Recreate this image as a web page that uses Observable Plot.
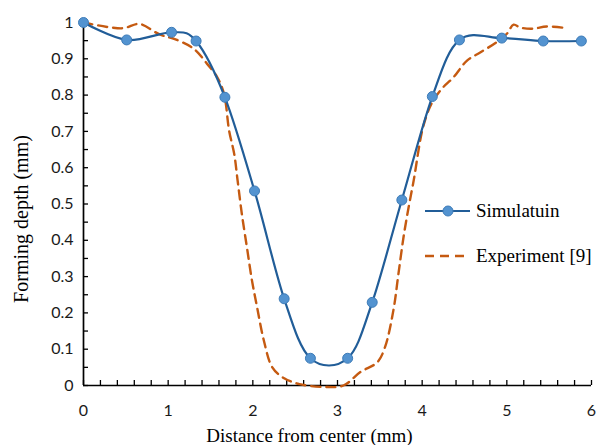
<!DOCTYPE html>
<html><head><meta charset="utf-8">
<script src="https://cdn.jsdelivr.net/npm/d3@7"></script>
<script src="https://cdn.jsdelivr.net/npm/@observablehq/plot@0.6"></script>
<style>html,body{margin:0;padding:0;background:#fff;}</style>
</head><body><div id="chart"></div>
<script>
// Simulation series (markers)
const simX = [0, 0.51, 1.04, 1.33, 1.67, 2.02, 2.37, 2.68, 3.12, 3.41, 3.76, 4.12, 4.44, 4.94, 5.43, 5.88];
const simY = [1.0, 0.952, 0.973, 0.949, 0.794, 0.536, 0.239, 0.075, 0.075, 0.229, 0.511, 0.796, 0.952, 0.957, 0.949, 0.949];
// Experiment [9] series (dashed)
const expX = [0, 0.46, 0.66, 0.9, 1.07, 1.3, 1.46, 1.58, 1.66, 1.72, 1.78, 1.82, 1.87, 1.93, 1.99, 2.05, 2.13, 2.23, 2.37, 2.55, 2.84, 3.07, 3.27, 3.47, 3.56, 3.66, 3.72, 3.78, 3.84, 3.9, 4.01, 4.11, 4.23, 4.37, 4.53, 4.69, 4.88, 5.0, 5.08, 5.16, 5.31, 5.47, 5.72];
const expY = [1.0, 0.984, 0.996, 0.967, 0.955, 0.928, 0.886, 0.849, 0.803, 0.702, 0.638, 0.565, 0.473, 0.381, 0.289, 0.216, 0.124, 0.05, 0.02, 0.004, -0.004, 0.0, 0.037, 0.064, 0.105, 0.207, 0.308, 0.409, 0.491, 0.565, 0.711, 0.776, 0.817, 0.849, 0.895, 0.918, 0.946, 0.969, 0.994, 0.986, 0.983, 0.989, 0.984];
// Tick labels
const xTickLabels = [0, 1, 2, 3, 4, 5, 6];
const yTickLabels = [0, 0.1, 0.2, 0.3, 0.4, 0.5, 0.6, 0.7, 0.8, 0.9, 1];
const seriesNames = ["Simulatuin", "Experiment [9]"];
const xTitle = "Distance from center (mm)";
const yTitle = "Forming depth (mm)";

const sim = simX.map((x, i) => ({x, y: simY[i]}));
const exp = expX.map((x, i) => ({x, y: expY[i]}));
const xMinor = d3.range(0, 31).map(i => i * 0.2);
const yMinor = d3.range(0, 21).map(i => i * 0.05);

const W = 598, H = 445, mL = 83, mR = 7, mT = 22, mB = 60;
const simColor = "#215D98", dotFill = "#5393D0", dotStroke = "#3E7CB8", expColor = "#C55A11";

const svg = Plot.plot({
  width: W, height: H,
  marginLeft: mL, marginRight: mR, marginTop: mT, marginBottom: mB,
  x: {domain: [0, 6]},
  y: {domain: [0, 1]},
  style: {fontFamily: "Lato", background: "white", color: "#1a1a1a"},
  marks: [
    Plot.tickX(xMinor, {x: d => d, insetTop: H - mT - mB - 5, stroke: "#000", strokeWidth: 1.3}),
    Plot.tickY(yMinor, {y: d => d, insetRight: W - mL - mR - 5, stroke: "#000", strokeWidth: 1.3}),
    Plot.ruleY([0], {stroke: "#000", strokeWidth: 1.7}),
    Plot.ruleX([0], {stroke: "#000", strokeWidth: 1.7}),
    Plot.axisX(xTickLabels, {tickSize: 0, tickPadding: 19, fontSize: 16, label: null, tickFormat: d => String(d)}),
    Plot.axisY(yTickLabels, {tickSize: 0, tickPadding: 10, fontSize: 16, label: null, tickFormat: d => String(d)}),
    Plot.line(exp, {x: "x", y: "y", stroke: expColor, strokeWidth: 2.4, strokeDasharray: "9,6", curve: "catmull-rom"}),
    Plot.line(sim, {x: "x", y: "y", stroke: simColor, strokeWidth: 2.2, curve: "cardinal"}),
    Plot.dot(sim, {x: "x", y: "y", r: 5, fill: dotFill, stroke: dotStroke, strokeWidth: 1}),
    Plot.text([xTitle], {frameAnchor: "bottom", textAnchor: "middle", dy: 50, dx: -28, fontSize: 19, fontFamily: "Liberation Serif", fill: "#000", lineAnchor: "middle"}),
    Plot.text([yTitle], {frameAnchor: "left", textAnchor: "middle", rotate: -90, dx: -62, dy: 15, fontSize: 20, fontFamily: "Liberation Serif", fill: "#000", lineAnchor: "middle"})
  ]
});
document.getElementById("chart").appendChild(svg);

// Legend (inside plot area)
const lg = d3.select(svg).append("g")
  .style("font-family", "'Liberation Serif', serif")
  .style("font-size", "19px")
  .attr("text-anchor", "start");
const rows = [
  {name: seriesNames[0], y: 211, kind: "sim"},
  {name: seriesNames[1], y: 256, kind: "exp"}
];
rows.forEach(r => {
  const line = lg.append("line").attr("x1", 425).attr("x2", 470).attr("y1", r.y).attr("y2", r.y);
  if (r.kind === "sim") {
    line.attr("stroke", simColor).attr("stroke-width", 2.2);
    lg.append("circle").attr("cx", 448).attr("cy", r.y).attr("r", 5).attr("fill", dotFill).attr("stroke", dotStroke);
  } else {
    line.attr("stroke", expColor).attr("stroke-width", 2.4).attr("stroke-dasharray", "9,6");
  }
  lg.append("text").attr("x", 476).attr("y", r.y).attr("dy", "0.32em")
    .style("text-anchor", "start").style("font-family", "'Liberation Serif', serif")
    .attr("fill", "#000").text(r.name);
});
</script>
</body></html>
